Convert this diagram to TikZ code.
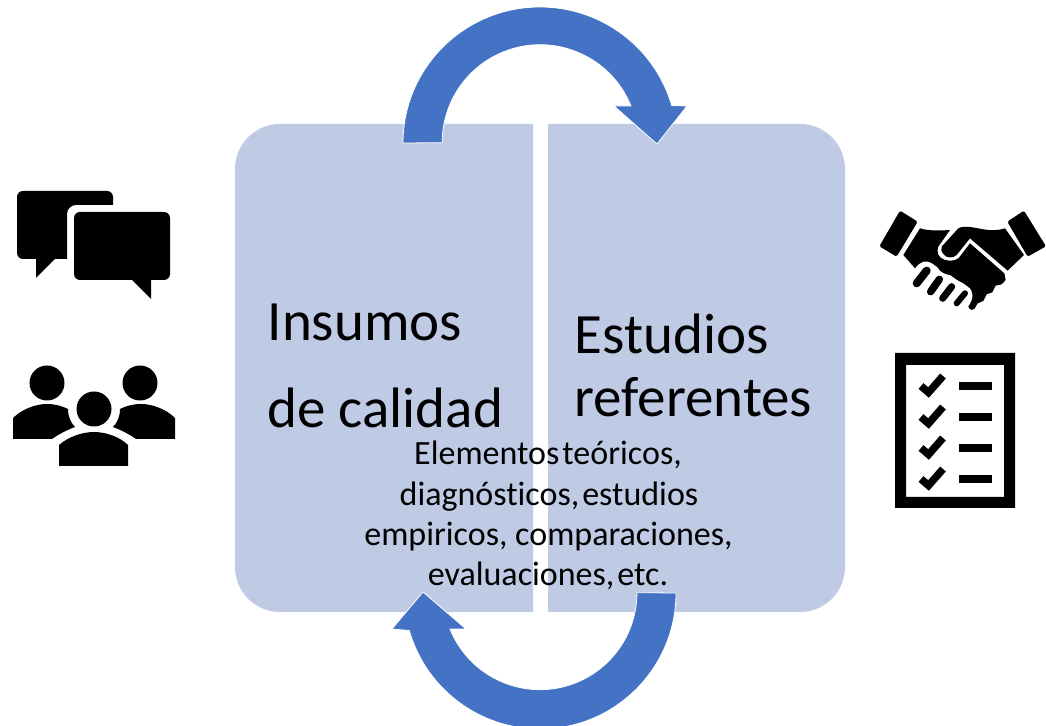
\documentclass[tikz,border=0pt]{standalone}
\usepackage{fontspec}
\setmainfont{Carlito}[Ligatures=NoCommon]
\usetikzlibrary{positioning}

\definecolor{panelblue}{HTML}{BFCAE5}
\definecolor{arrowblue}{HTML}{4472C4}
\tikzset{
  bigtext/.style={anchor=base west,inner sep=0pt,font=\fontsize{57}{57}\selectfont},
  smalltext/.style={anchor=base,inner sep=0pt,font=\fontsize{34}{34}\selectfont},
  turn/.style={fill=arrowblue,draw=white,line width=0.8pt},
  icon/.style={fill=black},
  finger/.style={draw=black,line cap=round},
  tick/.style={draw=black,line width=7.5pt}
}
\newcommand{\nsp}{\hspace{3pt}}

\begin{document}
\begin{tikzpicture}[x=1pt,y=1pt]
\useasboundingbox (0,0) rectangle (1046,725);

% panels
\fill[panelblue] (533,601) [rounded corners=45pt] -- (235,601) -- (235,113) [sharp corners] -- (533,113) -- cycle;
\fill[panelblue] (548,601) [rounded corners=45pt] -- (845,601) -- (845,113) [sharp corners] -- (548,113) -- cycle;

% arrows
\begin{scope}
\clip (0,0) rectangle (1046,725);
\draw[turn] (403,582) arc[start angle=180,end angle=16,x radius=137,y radius=136] -- (687,619) -- (657,581) -- (614,619) -- (631,619) arc[start angle=22,end angle=180,radius=98] -- cycle;
\draw[turn] (676,132) arc[start angle=0,end angle=-164,radius=136] -- (392,96) -- (423,133) -- (466,96) -- (450,96) arc[start angle=-158,end angle=0,radius=97] -- cycle;
\end{scope}

% texts
\node[bigtext] (insumos) at (267.5,384.5) {Insumos};
\node[bigtext] (calidad) at (267.5,297) {de calidad};
\node[bigtext] (estudios) at (574.5,371.5) {Estudios};
\node[bigtext] (referentes) at (574.5,308.5) {referentes};
\node[smalltext] (line1) at (548,260) {Elementos\nsp teóricos,};
\node[smalltext] (line2) at (549,219) {diagnósticos,\nsp estudios};
\node[smalltext] (line3) at (548.5,179) {empiricos, comparaciones,};
\node[smalltext] (line4) at (548,139) {evaluaciones,\nsp etc.};

% chat icon
\fill[icon,rounded corners=6pt] (113,520) -- (113,534) -- (17,534) -- (17,466) [sharp corners] -- (36,466) -- (36,447) -- (55,466) -- (67,466) [rounded corners=9pt] -- (67,520) -- (113,520);
\fill[icon,rounded corners=6pt] (74,480) -- (74,513) -- (170,513) -- (170,445) [sharp corners] -- (151,445) -- (151,426) -- (132,445) [rounded corners=6pt] -- (74,445) -- (74,480);

% people icon
\fill[icon] (47,342) circle (17.5);
\fill[icon] (140,342) circle (17.5);
\fill[icon] (94,316) circle (17.5);
\fill[icon] (13,286) -- (13,307) .. controls (22,316) and (36,321) .. (47,321) .. controls (55,321) and (62,319) .. (68,316) .. controls (68,308) and (71,302) .. (75,298) .. controls (67,295) and (59,291) .. (52,286) -- cycle;
\fill[icon] (175,286) -- (175,307) .. controls (166,316) and (152,321) .. (141,321) .. controls (133,321) and (126,319) .. (120,316) .. controls (120,308) and (117,302) .. (113,298) .. controls (121,295) and (129,291) .. (136,286) -- cycle;
\fill[icon] (59,259) -- (59,280) .. controls (68,288) and (82,293) .. (94,293) .. controls (106,293) and (120,288) .. (128,280) -- (128,259) -- cycle;

% handshake icon
\begin{scope}[shift={(875,520)},x=0.3333pt,y=-0.3333pt]
\fill[icon,rounded corners=1.5pt] (75,17) -- (128,50) -- (65,155) -- (13,124) -- cycle;
\fill[icon,rounded corners=1.5pt] (447,17) -- (397,50) -- (458,155) -- (513,124) -- cycle;
\fill[icon] (200,125) -- (250,70) .. controls (270,58) and (310,72) .. (340,75) .. controls (360,76) and (375,75) .. (390,70) -- (447,150) -- (398,197) -- (285,100) -- (245,150) .. controls (235,160) and (215,160) .. (208,150) .. controls (198,140) and (197,132) .. (200,125) -- cycle;
\fill[icon] (135,70) .. controls (160,78) and (195,77) .. (225,75) -- (190,125) .. controls (183,140) and (190,160) .. (210,165) .. controls (230,170) and (245,165) .. (252,158) -- (285,115) -- (388,205) -- (392,225) -- (380,238) -- (362,242) -- (352,262) -- (335,268) -- (325,288) -- (308,295) -- (298,312) .. controls (293,318) and (285,316) .. (280,305) .. controls (297,280) and (295,262) .. (285,250) .. controls (270,238) and (262,232) .. (255,230) .. controls (240,222) and (232,213) .. (225,210) .. controls (212,208) and (205,205) .. (195,197) .. controls (185,180) and (160,165) .. (145,170) .. controls (135,172) and (128,180) .. (120,190) -- (85,150) -- cycle;
\draw[finger,line width=8pt] (125,235) -- (155,197);
\draw[finger,line width=7.5pt] (167,260) -- (193,223);
\draw[finger,line width=7pt] (203,280) -- (230,245);
\draw[finger,line width=6pt] (245,295) -- (270,265);
\end{scope}

% checklist icon
\fill[icon,even odd rule] (895,217) rectangle (1015,372) (906,228) rectangle (1004,360);
\foreach \rowy in {339,308,277,246} {
  \fill[icon] (959,\rowy-4) rectangle (992,\rowy+4);
  \draw[tick] (921,\rowy) -- (928.5,\rowy-6.5) -- (943,\rowy+10);
}

\end{tikzpicture}
\end{document}
